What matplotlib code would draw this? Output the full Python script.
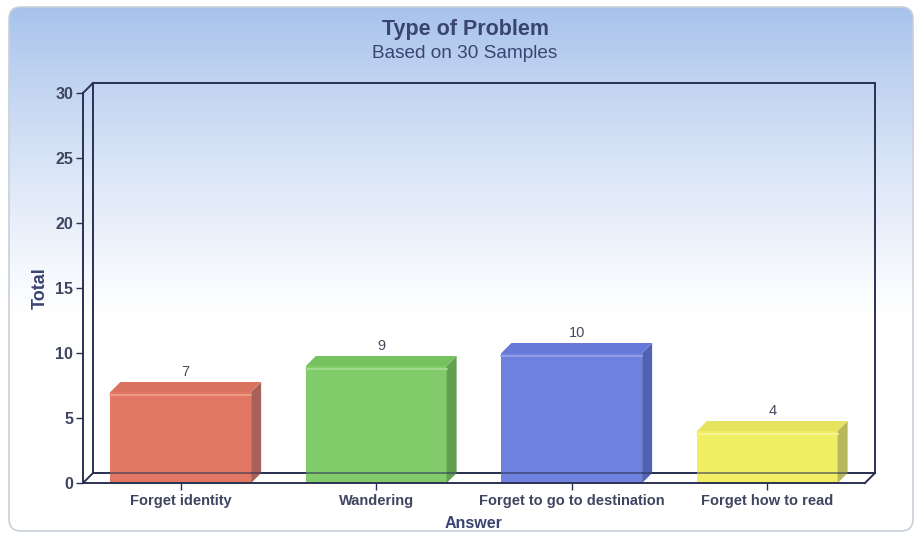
import numpy as np
import matplotlib
matplotlib.use("Agg")
import matplotlib.pyplot as plt
from matplotlib.patches import FancyBboxPatch, Polygon, Rectangle
import matplotlib.colors as mcolors
import matplotlib.transforms as mtransforms

# data
answers = ["Forget identity", "Wandering", "Forget to go to destination", "Forget how to read"]
totals = [7, 9, 10, 4]
front_colors = ["#e27864", "#82cb6a", "#6e81df", "#f0ee62"]
side_colors = ["#a8605a", "#62a050", "#5262b2", "#b9b75c"]
top_colors = ["#d9725f", "#76c160", "#6779d8", "#e6e45e"]
highlight_colors = ["#f0a090", "#a8dc94", "#97a5ea", "#f8f69a"]

title = "Type of Problem"
subtitle = "Based on 30 Samples"
navy = "#2b3152"
text_col = "#3a4470"

plt.rcParams["font.family"] = ["Liberation Sans", "DejaVu Sans"]

W, H = 921, 538
fig = plt.figure(figsize=(W / 100, H / 100), dpi=100)
fig.patch.set_facecolor("white")

# background panel with vertical gradient
bg = fig.add_axes([0, 0, 1, 1])
bg.set_xlim(0, W)
bg.set_ylim(H, 0)
bg.axis("off")
panel = FancyBboxPatch((9, 7), W - 17, H - 14, boxstyle="round,pad=0,rounding_size=12",
                       facecolor="none", edgecolor="#c8d0da", lw=1.2, zorder=2)
bg.add_patch(panel)
top_rgb = np.array(mcolors.to_rgb("#a6c1eb"))
t = np.linspace(0, 1, 300)
mix = np.clip(t / 0.58, 0, 1) ** 0.85
grad = top_rgb[None, :] * (1 - mix[:, None]) + np.ones(3)[None, :] * mix[:, None]
img = bg.imshow(grad[:, None, :], extent=[9, W - 8, H - 7, 7], aspect="auto", zorder=1)
img.set_clip_path(panel)

# plot area
ax = fig.add_axes([83 / W, (H - 483) / H, 782 / W, 390 / H])
ax.patch.set_alpha(0)
ax.set_xlim(-0.5, len(answers) - 0.5)
ax.set_ylim(0, 30)

# depth of the 3d effect, in pixels, turned into data units
depth_px = 10
px_x = 782 / len(answers)
px_y = 390 / 30
dx = depth_px / px_x
dy = depth_px / px_y

x0, x1 = -0.5, len(answers) - 0.5
lw = 1.4

# back wall
ax.add_patch(Rectangle((x0 + dx, dy), x1 - x0, 30, fill=False, edgecolor=navy,
                       lw=lw, clip_on=False, zorder=1))
# left wall and floor diagonals
for (xa, ya) in [(x0, 0), (x0, 30), (x1, 0)]:
    ax.plot([xa, xa + dx], [ya, ya + dy], color=navy, lw=lw, clip_on=False, zorder=1)

# bars
w = 0.72
x = np.arange(len(answers))
ax.bar(x, totals, width=w, color=front_colors, zorder=3, edgecolor="none")
shine = mtransforms.offset_copy(ax.transData, fig=fig, x=0, y=-2.5, units="dots")
for xi, v, sc, tc, hc in zip(x, totals, side_colors, top_colors, highlight_colors):
    r = xi + w / 2
    l = xi - w / 2
    ax.add_patch(Polygon([(r, 0), (r + dx, dy), (r + dx, v + dy), (r, v)],
                         closed=True, facecolor=sc, edgecolor="none", zorder=3, clip_on=False))
    ax.add_patch(Polygon([(l, v), (l + dx, v + dy), (r + dx, v + dy), (r, v)],
                         closed=True, facecolor=tc, edgecolor="none", zorder=3, clip_on=False))
    ax.plot([l, r], [v, v], color=hc, lw=1.2, transform=shine, zorder=3.5)
    ax.annotate(str(v), (xi + dx / 2, v + dy), xytext=(0, 2), textcoords="offset points",
                ha="center", va="bottom", fontsize=10.5, color="#454a5c")

# floor back line shows through the bars
ax.plot([x0 + dx, x1 + dx], [dy, dy], color=navy, lw=lw, alpha=0.55, zorder=4, clip_on=False)

for side in ["top", "right"]:
    ax.spines[side].set_visible(False)
for side in ["left", "bottom"]:
    ax.spines[side].set_color(navy)
    ax.spines[side].set_linewidth(lw)
    ax.spines[side].set_zorder(5)

ax.set_yticks(range(0, 31, 5))
ax.set_xticks(x)
ax.set_xticklabels(answers, fontsize=10.5, fontweight="bold", color="#3e4560")
ax.tick_params(axis="y", length=5, width=1, color=navy, labelsize=11.5, labelcolor="#3e4560", pad=2)
ax.tick_params(axis="x", length=5, width=1, color=navy, pad=3)
for lab in ax.get_yticklabels():
    lab.set_fontweight("bold")

ax.set_ylabel("Total", fontsize=13, fontweight="bold", color=text_col, labelpad=5)
ax.set_xlabel("Answer", fontsize=11.5, fontweight="bold", color=text_col, labelpad=6)

fig.text(0.505, 1 - 30 / H, title, ha="center", va="center", fontsize=15.5,
         fontweight="bold", color=text_col)
fig.text(0.505, 1 - 53 / H, subtitle, ha="center", va="center", fontsize=13.7,
         color=text_col)

fig.savefig("out.png", dpi=100)
